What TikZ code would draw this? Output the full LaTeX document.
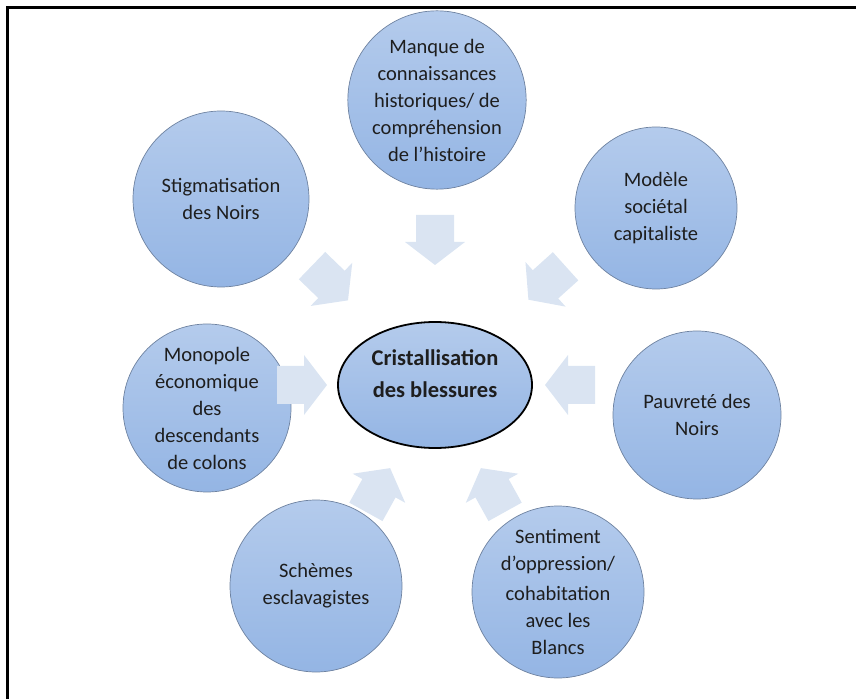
\documentclass[tikz,border=0pt]{standalone}
\usepackage{fontspec}
\setmainfont{Carlito}
\usetikzlibrary{shapes.geometric}
\definecolor{cTop}{RGB}{180,203,236}
\definecolor{cBot}{RGB}{148,181,228}
\definecolor{cEdge}{RGB}{110,130,160}
\definecolor{aFill}{RGB}{218,228,242}
\definecolor{txt}{RGB}{30,30,30}
\begin{document}
\begin{tikzpicture}[x=1pt,y=1pt,
  bubble/.style={circle, draw=cEdge, line width=0.7pt, top color=cTop, bottom color=cBot,
    align=center, inner sep=0pt, font=\fontsize{20.5}{27}\selectfont, text=txt},
  core/.style={ellipse, draw=black, line width=1.8pt, top color=cTop, bottom color=cBot,
    minimum width=194pt, minimum height=126pt, inner sep=0pt},
  coretext/.style={align=center, font=\bfseries\fontsize{22.5}{32}\selectfont, text=txt},
  blockarrow/.style={fill=aFill, draw=none}]
\useasboundingbox (0,0) rectangle (856,699);
% frame
\draw[line width=3pt] (7,0) -- (7,691) -- (856,691);
% outer circles
\node[bubble, minimum size=176pt] (manque) at (437,599) {Manque de\\connaissances\\historiques/ de\\compréhension\\de l’histoire};
\node[bubble, minimum size=176pt] (stig) at (221,500) {Stigmatisation\\des Noirs};
\node[bubble, minimum size=162pt] (modele) at (656,491) {Modèle\\sociétal\\capitaliste};
\node[bubble, minimum size=168pt] (pauv) at (697,284) {Pauvreté des\\Noirs};
\node[bubble, minimum size=172pt] (sent) at (558,107) {Sentiment\\d'oppression/\\[3pt]cohabitation\\avec les\\Blancs};
\node[bubble, minimum size=172pt] (schemes) at (316,113) {Schèmes\\esclavagistes};
\node[bubble, minimum size=168pt] (mono) at (207,291) {Monopole\\économique\\des\\descendants\\de colons};
% centre
\node[core] (c) at (435,314) {};
\node[coretext] (ct) at (435,325) {Cristallisation\\des blessures};
% block arrows
\foreach \px/\py/\ang in {435/459/-90, 330/416/-44, 547/416/-138, 302/314/0, 570/314/180, 378/209/61, 493/209/119}{
  \fill[blockarrow, shift={(\px,\py)}, rotate=\ang]
    (-25,-19) -- (2,-19) -- (2,-30) -- (25,0) -- (2,30) -- (2,19) -- (-25,19) -- cycle;
}
\end{tikzpicture}
\end{document}
